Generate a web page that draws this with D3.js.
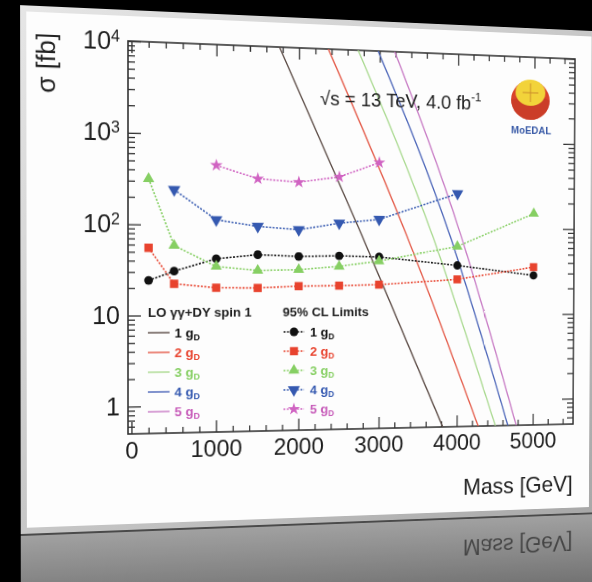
<!DOCTYPE html>
<html>
<head>
<meta charset="utf-8">
<script src="https://cdnjs.cloudflare.com/ajax/libs/d3/7.8.5/d3.min.js"></script>
<style>
  html, body { margin: 0; padding: 0; background: #000; width: 592px; height: 582px; overflow: hidden; }
  #slide { position: absolute; left: 0; top: 0; width: 680px; height: 680px; transform-origin: 0 0; }
  svg text { font-family: "Liberation Sans", Arial, Helvetica, sans-serif; }
</style>
</head>
<body>
<div id="slide"></div>
<script>
// Data
var massPoints = [200, 500, 1000, 1500, 2000, 2500, 3000, 4000, 5000];
var limit1g = [24.3, 30.8, 42.4, 47.3, 45.6, 46.6, 45.6, 36.8, 28.4];
var limit2g = [55.4, 22.3, 20.2, 20.1, 21.1, 21.4, 22.0, 25.4, 35.5];
var limit3g = [317, 59, 34.8, 31.6, 32.3, 35.4, 40.9, 61, 150];
var massPoints4g = [500, 1000, 1500, 2000, 2500, 3000, 4000];
var limit4g = [243, 115, 98, 91, 109, 122, 248];
var massPoints5g = [1000, 1500, 2000, 2500, 3000];
var limit5g = [461, 334, 312, 365, 540];

// LO gamma-gamma + DY cross sections (theory lines)
var theoryMass1g = [1760, 2780, 3820];
var theory1g = [10000, 81, 0.5];
var theoryMass2g = [2360, 3345, 4280];
var theory2g = [10000, 82, 0.5];
var theoryMass3g = [2730, 3676, 4505];
var theory3g = [10000, 82, 0.5];
var theoryMass4g = [2980, 3900, 4670];
var theory4g = [10000, 83, 0.5];
var theoryMass5g = [3190, 4043, 4780];
var theory5g = [10000, 83, 0.5];

var couplings = ["1", "2", "3", "4", "5"];
var xTickValues = [0, 1000, 2000, 3000, 4000, 5000];
var yTickValues = [1, 10, 100, 1000, 10000];
var yTickExponents = ["", "", "2", "3", "4"];

var limitColors = ["#111111", "#e8432e", "#86cf63", "#3559b0", "#d063c2"];
var theoryColors = ["#5a4a44", "#e45a48", "#a9d98f", "#4a64b8", "#c77ac4"];
var textColors = ["#111111", "#e8432e", "#86cf63", "#3559b0", "#c75bb9"];

// flat drawing space, later put in perspective like the photo of the slide
var svgWidth = 680;
var svgHeight = 680;
var margin = { top: 45, left: 130 };
var width = 481;
var height = 395;

// where the plot frame corners land on screen (TL, TR, BR, BL)
var frameQuad = [[128, 41], [575, 59], [573, 424], [128, 434]];

function quadMatrix(q, ox, oy, w, h) {
  var x0 = q[0][0], y0 = q[0][1], x1 = q[1][0], y1 = q[1][1];
  var x2 = q[2][0], y2 = q[2][1], x3 = q[3][0], y3 = q[3][1];
  var dx1 = x1 - x2, dx2 = x3 - x2, dx3 = x0 - x1 + x2 - x3;
  var dy1 = y1 - y2, dy2 = y3 - y2, dy3 = y0 - y1 + y2 - y3;
  var den = dx1 * dy2 - dx2 * dy1;
  var g = (dx3 * dy2 - dx2 * dy3) / den;
  var hh = (dx1 * dy3 - dx3 * dy1) / den;
  var a = x1 - x0 + g * x1, b = x3 - x0 + hh * x3, c = x0;
  var d = y1 - y0 + g * y1, e = y3 - y0 + hh * y3, f = y0;
  var m = [
    [a / w, b / h, c - a * ox / w - b * oy / h],
    [d / w, e / h, f - d * ox / w - e * oy / h],
    [g / w, hh / h, 1 - g * ox / w - hh * oy / h]
  ];
  return "matrix3d(" + [m[0][0], m[1][0], 0, m[2][0],
    m[0][1], m[1][1], 0, m[2][1],
    0, 0, 1, 0,
    m[0][2], m[1][2], 0, m[2][2]].join(",") + ")";
}

d3.select("#slide").style("transform", quadMatrix(frameQuad, margin.left, margin.top, width, height));

var svg = d3.select("#slide")
  .append("svg")
  .attr("width", svgWidth)
  .attr("height", svgHeight)
  .style("overflow", "visible");

var defs = svg.append("defs");
var refl = defs.append("linearGradient").attr("id", "refl").attr("x1", 0).attr("y1", 0).attr("x2", 0).attr("y2", 1);
refl.append("stop").attr("offset", "0%").attr("stop-color", "#a2a2a2");
refl.append("stop").attr("offset", "60%").attr("stop-color", "#6e6e6e");
refl.append("stop").attr("offset", "100%").attr("stop-color", "#4a4a4a");
var bevel = defs.append("linearGradient").attr("id", "bevel").attr("x1", 0).attr("y1", 0).attr("x2", 1).attr("y2", 1);
bevel.append("stop").attr("offset", "0%").attr("stop-color", "#e6e6e6");
bevel.append("stop").attr("offset", "100%").attr("stop-color", "#a8a8a8");
defs.append("clipPath").attr("id", "plotclip")
  .append("rect").attr("width", width).attr("height", height);

var chartGroup = svg.append("g")
  .attr("transform", `translate(${margin.left}, ${margin.top})`);

// slide panel + its reflection
chartGroup.append("rect")
  .attr("x", -106).attr("y", 492).attr("width", 612).attr("height", 140)
  .attr("fill", "url(#refl)");
chartGroup.append("rect")
  .attr("x", -106).attr("y", 490).attr("width", 612).attr("height", 4)
  .attr("fill", "#4a4a4a");
chartGroup.append("rect")
  .attr("x", -106).attr("y", -31).attr("width", 612).attr("height", 523)
  .attr("fill", "url(#bevel)");
chartGroup.append("rect")
  .attr("x", -100).attr("y", -25).attr("width", 600).attr("height", 511)
  .attr("fill", "#fdfdfd");

// Scales
var xScale = d3.scaleLinear()
  .domain([-40, 5540])
  .range([0, width]);

var yScale = d3.scaleLog()
  .domain([0.5, 10000])
  .range([height, 0]);

// Axes (ROOT style: ticks inside on all four sides)
var xMinor = d3.range(0, 5401, 200).filter(function(v) { return v % 1000 !== 0; });
var yMinor = [];
[0.1, 1, 10, 100, 1000].forEach(function(dec) {
  d3.range(2, 10).forEach(function(k) {
    var v = k * dec;
    if (v > 0.5 && v < 10000) yMinor.push(v);
  });
});

function noDomain(sel) { sel.select(".domain").remove(); }

chartGroup.append("g")
  .attr("transform", `translate(0, ${height})`)
  .call(d3.axisBottom(xScale).tickValues(xTickValues).tickSize(-12).tickPadding(8).tickFormat(d3.format("d")))
  .call(noDomain)
  .attr("font-size", 24).attr("font-family", null);
chartGroup.append("g")
  .attr("transform", `translate(0, ${height})`)
  .call(d3.axisBottom(xScale).tickValues(xMinor).tickSize(-6).tickFormat(""))
  .call(noDomain);
chartGroup.append("g")
  .call(d3.axisTop(xScale).tickValues(xTickValues).tickSize(-12).tickFormat(""))
  .call(noDomain);
chartGroup.append("g")
  .call(d3.axisTop(xScale).tickValues(xMinor).tickSize(-6).tickFormat(""))
  .call(noDomain);

var leftAxis = chartGroup.append("g")
  .call(d3.axisLeft(yScale).tickValues(yTickValues).tickSize(-13).tickPadding(8).tickFormat(""))
  .call(noDomain)
  .attr("font-size", 25).attr("font-family", null);
leftAxis.selectAll(".tick text").each(function(d, i) {
  var t = d3.select(this);
  var p = yTickExponents[i];
  if (p === "") {
    t.text(String(d));
  } else {
    t.append("tspan").text("10");
    t.append("tspan").attr("font-size", 16).attr("dy", "-0.5em").text(p);
  }
});
chartGroup.append("g")
  .call(d3.axisLeft(yScale).tickValues(yMinor).tickSize(-7).tickFormat(""))
  .call(noDomain);
chartGroup.append("g")
  .attr("transform", `translate(${width}, 0)`)
  .call(d3.axisRight(yScale).tickValues(yTickValues).tickSize(-13).tickFormat(""))
  .call(noDomain);
chartGroup.append("g")
  .attr("transform", `translate(${width}, 0)`)
  .call(d3.axisRight(yScale).tickValues(yMinor).tickSize(-7).tickFormat(""))
  .call(noDomain);

chartGroup.selectAll(".tick line").attr("stroke", "#333").attr("stroke-width", 1.3);
chartGroup.selectAll(".tick text").attr("fill", "#1e1e1e");

// frame
chartGroup.append("rect")
  .attr("width", width).attr("height", height)
  .attr("fill", "none").attr("stroke", "#333").attr("stroke-width", 1.6);

// Theory lines
var theoryMasses = [theoryMass1g, theoryMass2g, theoryMass3g, theoryMass4g, theoryMass5g];
var theoryValues = [theory1g, theory2g, theory3g, theory4g, theory5g];

var curveLine = d3.line()
  .x(function(d) { return xScale(d[0]); })
  .y(function(d) { return yScale(d[1]); })
  .curve(d3.curveMonotoneX);

var theoryGroup = chartGroup.append("g").attr("clip-path", "url(#plotclip)");
theoryMasses.forEach(function(ms, i) {
  theoryGroup.append("path")
    .attr("d", curveLine(d3.zip(ms, theoryValues[i])))
    .attr("fill", "none")
    .attr("stroke", theoryColors[i])
    .attr("stroke-width", 1.4);
});

// Limits
var limitMasses = [massPoints, massPoints, massPoints, massPoints4g, massPoints5g];
var limitValues = [limit1g, limit2g, limit3g, limit4g, limit5g];
var symbols = [d3.symbolCircle, d3.symbolSquare, d3.symbolTriangle, d3.symbolTriangle, d3.symbolStar];
var symbolSizes = [62, 72, 58, 70, 52];
var symbolRot = [0, 0, 0, 180, 0];

var dotLine = d3.line()
  .x(function(d) { return xScale(d[0]); })
  .y(function(d) { return yScale(d[1]); });

limitMasses.forEach(function(ms, i) {
  var pts = d3.zip(ms, limitValues[i]);
  chartGroup.append("path")
    .attr("d", dotLine(pts))
    .attr("fill", "none")
    .attr("stroke", limitColors[i])
    .attr("stroke-width", 1.6)
    .attr("stroke-dasharray", "2,1.6");
  chartGroup.selectAll(null)
    .data(pts)
    .enter().append("path")
    .attr("d", d3.symbol().type(symbols[i]).size(symbolSizes[i]))
    .attr("transform", function(d) {
      return `translate(${xScale(d[0])}, ${yScale(d[1])}) rotate(${symbolRot[i]})`;
    })
    .attr("fill", limitColors[i]);
});

// Legends
var legendLeft = chartGroup.append("g").attr("font-weight", "bold").attr("font-size", 13.5);
legendLeft.append("text").attr("x", 20).attr("y", 277).attr("fill", "#1e1e1e").text("LO γγ+DY spin 1");
var legendRight = chartGroup.append("g").attr("font-weight", "bold").attr("font-size", 13.5);
legendRight.append("text").attr("x", 159).attr("y", 277).attr("fill", "#1e1e1e").text("95% CL Limits");

couplings.forEach(function(c, i) {
  var yy = 298 + i * 20;
  legendLeft.append("line")
    .attr("x1", 20).attr("x2", 42).attr("y1", yy - 5).attr("y2", yy - 5)
    .attr("stroke", theoryColors[i]).attr("stroke-width", 1.4);
  var t = legendLeft.append("text").attr("x", 47).attr("y", yy).attr("fill", textColors[i]);
  t.append("tspan").text(c + " g");
  t.append("tspan").attr("font-size", 9).attr("dy", "0.35em").text("D");

  legendRight.append("line")
    .attr("x1", 160).attr("x2", 182).attr("y1", yy - 5).attr("y2", yy - 5)
    .attr("stroke", limitColors[i]).attr("stroke-width", 1.6).attr("stroke-dasharray", "2,1.6");
  legendRight.append("path")
    .attr("d", d3.symbol().type(symbols[i]).size(symbolSizes[i]))
    .attr("transform", `translate(171, ${yy - 5}) rotate(${symbolRot[i]})`)
    .attr("fill", limitColors[i]);
  var t2 = legendRight.append("text").attr("x", 188).attr("y", yy).attr("fill", textColors[i]);
  t2.append("tspan").text(c + " g");
  t2.append("tspan").attr("font-size", 9).attr("dy", "0.35em").text("D");
});

// Labels
var energy = chartGroup.append("text")
  .attr("x", 198).attr("y", 58)
  .attr("font-size", 20).attr("fill", "#222");
energy.append("tspan").text("√s = 13 TeV, 4.0 fb");
energy.append("tspan").attr("font-size", 13).attr("dy", "-0.7em").text("-1");

chartGroup.append("text")
  .attr("transform", "translate(-72, -5) rotate(-90)")
  .attr("text-anchor", "end")
  .attr("font-size", 26)
  .attr("fill", "#222")
  .text("σ [fb]");

chartGroup.append("text")
  .attr("x", width).attr("y", 468)
  .attr("text-anchor", "end")
  .attr("font-size", 24)
  .attr("fill", "#222")
  .text("Mass [GeV]");

// mirrored axis title in the reflection
chartGroup.append("text")
  .attr("transform", "translate(0, 984) scale(1, -1)")
  .attr("x", width).attr("y", 468)
  .attr("text-anchor", "end")
  .attr("font-size", 24)
  .attr("fill", "#333")
  .attr("opacity", 0.8)
  .text("Mass [GeV]");

// MoEDAL logo
var logo = chartGroup.append("g").attr("transform", "translate(430, 44)");
logo.append("ellipse").attr("rx", 22).attr("ry", 21).attr("cy", 2).attr("fill", "#d9432b");
logo.append("path").attr("d", "M-22,2 A22,21 0 0,0 22,2 L10,-4 Z").attr("fill", "#c23a26").attr("opacity", 0.6);
logo.append("ellipse").attr("rx", 17).attr("ry", 14).attr("cy", -6).attr("fill", "#f2d33a");
logo.append("line").attr("x1", -9).attr("x2", 9).attr("y1", -6).attr("y2", -6).attr("stroke", "#c98a2a").attr("stroke-width", 1);
logo.append("line").attr("x1", 0).attr("x2", 0).attr("y1", -16).attr("y2", 4).attr("stroke", "#c98a2a").attr("stroke-width", 1);
chartGroup.append("text")
  .attr("x", 431).attr("y", 82)
  .attr("text-anchor", "middle")
  .attr("font-size", 11).attr("font-weight", "bold")
  .attr("fill", "#3b5ca8")
  .text("MoEDAL");
</script>
</body>
</html>
